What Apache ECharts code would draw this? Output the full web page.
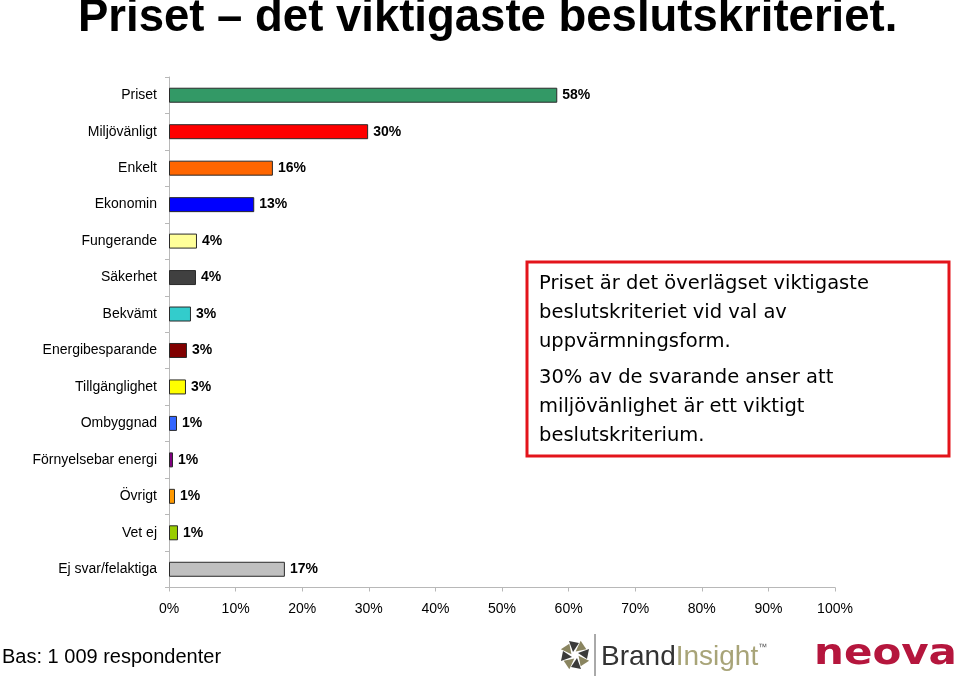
<!DOCTYPE html>
<html>
<head>
<meta charset="utf-8">
<script src="https://cdn.jsdelivr.net/npm/echarts@6/dist/echarts.min.js"></script>
<style>
  html, body { margin: 0; padding: 0; background: #fff; }
  #chart { width: 960px; height: 678px; }
</style>
</head>
<body>
<div id="chart"></div>
<script>
const categories = [
  "Priset", "Miljövänligt", "Enkelt", "Ekonomin", "Fungerande", "Säkerhet",
  "Bekvämt", "Energibesparande", "Tillgänglighet", "Ombyggnad",
  "Förnyelsebar energi", "Övrigt", "Vet ej", "Ej svar/felaktiga"
];
// bar lengths (percent)
const values = [58.3, 29.9, 15.6, 12.8, 4.2, 4.05, 3.3, 2.7, 2.55, 1.2, 0.6, 0.9, 1.35, 17.4];
const barColors = [
  "#339966", "#ff0000", "#ff6600", "#0000ff", "#ffff99", "#404040",
  "#33cccc", "#800000", "#ffff00", "#3366ff", "#800080", "#ff9900", "#99cc00", "#c0c0c0"
];

const titleText = "Priset – det viktigaste beslutskriteriet.";
const boxLines1 = [
  "Priset är det överlägset viktigaste",
  "beslutskriteriet vid val av",
  "uppvärmningsform."
];
const boxLines2 = [
  "30% av de svarande anser att",
  "miljövänlighet är ett viktigt",
  "beslutskriterium."
];
const baseText = "Bas: 1 009 respondenter";

const chartInstance = echarts.init(document.getElementById("chart"));

const font = "Liberation Sans, Arial, Helvetica, sans-serif";
const wideFont = "DejaVu Sans, Verdana, sans-serif";

// text lines in the red box
const boxText = [];
boxLines1.forEach((line, i) => {
  boxText.push({
    type: "text", left: 539, top: 274 + i * 29,
    style: { text: line, font: "19.5px " + wideFont, fill: "#000" },
  });
});
boxLines2.forEach((line, i) => {
  boxText.push({
    type: "text", left: 539, top: 368 + i * 29,
    style: { text: line, font: "19.5px " + wideFont, fill: "#000" },
  });
});

// small pinwheel icon of the BrandInsight logo
const iconParts = [];
for (let k = 0; k < 8; k++) {
  const a = (k * Math.PI) / 4;
  iconParts.push({
    type: "polygon",
    x: 575, y: 655, rotation: -a,
    shape: { points: [[3, -2], [14, -6], [12, 4]] },
    style: { fill: k % 2 ? "#8a8560" : "#3a3a3a" },
  });
}

const initOption = {
  animation: false,
  grid: {
    top: 77,
    bottom: 90.5,
    left: 169,
    right: 125,
  },
  xAxis: {
    type: "value",
    min: 0,
    max: 100,
    interval: 10,
    splitLine: { show: false },
    axisLine: { show: true, lineStyle: { color: "#b8b8b8", width: 1 } },
    axisTick: { show: true, length: 4, lineStyle: { color: "#b8b8b8" } },
    axisLabel: {
      color: "#000",
      fontSize: 14,
      fontFamily: font,
      margin: 15,
      formatter: "{value}%",
    },
  },
  yAxis: {
    type: "category",
    inverse: true,
    data: categories,
    axisLine: { show: true, lineStyle: { color: "#b8b8b8", width: 1 } },
    axisTick: { show: true, length: 4, lineStyle: { color: "#b8b8b8" } },
    axisLabel: {
      color: "#000",
      fontSize: 14,
      fontFamily: font,
      margin: 12,
    },
  },
  series: [
    {
      type: "bar",
      barWidth: 15,
      data: values.map((v, i) => ({
        value: v,
        itemStyle: { color: barColors[i] },
      })),
      itemStyle: {
        borderColor: "#2a2a2a",
        borderWidth: 1,
      },
      label: {
        show: true,
        position: "right",
        distance: 5,
        color: "#000",
        fontSize: 14,
        fontWeight: "bold",
        fontFamily: font,
        formatter: (p) => Math.round(p.value) + "%",
      },
    },
  ],
  graphic: [
    {
      type: "text", left: 78, top: -5,
      style: { text: titleText, font: "bold 45.5px " + font, fill: "#000" },
    },
    {
      type: "rect",
      shape: { x: 527, y: 262, width: 422, height: 194 },
      style: { fill: "#fff", stroke: "#e3141b", lineWidth: 3 },
    },
    ...boxText,
    {
      type: "text", left: 2, top: 647,
      style: { text: baseText, font: "20px " + font, fill: "#000" },
    },
    ...iconParts,
    {
      type: "line",
      shape: { x1: 595, y1: 634, x2: 595, y2: 676 },
      style: { stroke: "#555", lineWidth: 1 },
    },
    {
      type: "text", left: 601, top: 643,
      style: {
        rich: {
          b: { font: "28px " + font, fill: "#333" },
          i: { font: "28px " + font, fill: "#a8a478" },
          t: { font: "9px " + font, fill: "#555", verticalAlign: "top" },
        },
        text: "{b|Brand}{i|Insight}{t|™}",
      },
    },
    {
      type: "text", left: 814, top: 638,
      scaleY: 0.83,
      style: {
        text: "neova",
        font: "bold 42px " + wideFont,
        fill: "#b5163d",
      },
    },
  ],
};

chartInstance.setOption(initOption);
window.addEventListener("resize", () => chartInstance.resize());
</script>
</body>
</html>
